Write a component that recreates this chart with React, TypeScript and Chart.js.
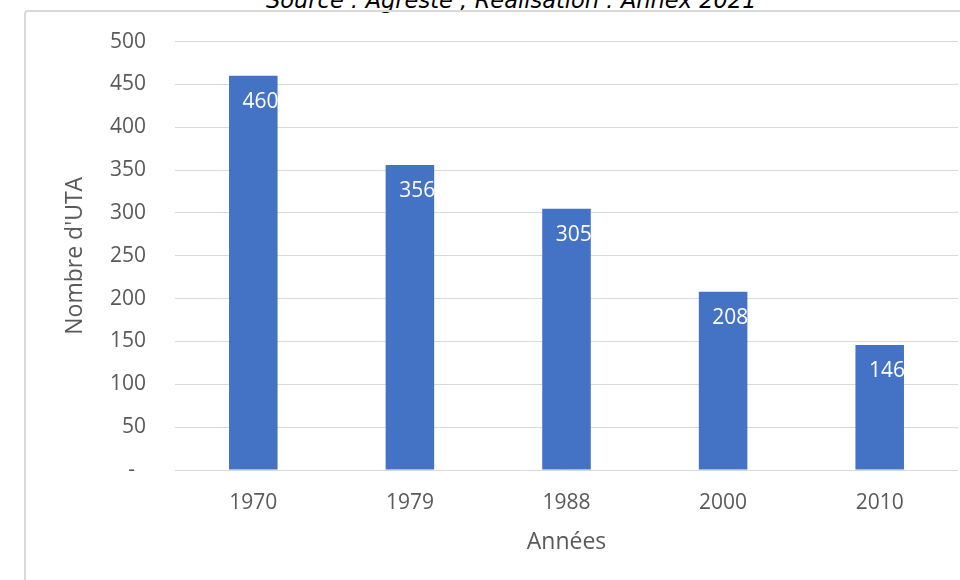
import React, { useEffect, useRef } from 'react';
import { Chart, registerables } from 'chart.js';
Chart.register(...registerables);

const categories = ['1970', '1979', '1988', '2000', '2010'];
const values = [460, 356, 305, 208, 146];
const yMin = 0;
const yMax = 500;
const yStep = 50;
const yTitle = "Nombre d'UTA";
const xTitle = 'Années';
const caption = 'Source : Agreste ; Réalisation : Annex 2021';

const FONT = "'Open Sans', 'Noto Sans', sans-serif";
const GREY = '#595959';

const labelPlugin = {
  id: 'barLabels',
  afterDatasetsDraw(chart: any) {
    const ctx = chart.ctx;
    const meta = chart.getDatasetMeta(0);
    ctx.save();
    ctx.fillStyle = '#ffffff';
    ctx.font = `21px ${FONT}`;
    ctx.textAlign = 'right';
    ctx.textBaseline = 'middle';
    meta.data.forEach((el: any, i: number) => {
      const props = el.getProps(['x', 'y', 'width'], true);
      ctx.fillText(String(values[i]), props.x + props.width / 2 + 1, props.y + 26);
    });
    ctx.restore();
  },
};

export default function App() {
  const ref = useRef<HTMLCanvasElement>(null);
  useEffect(() => {
    if (!ref.current) return;
    const chart = new Chart(ref.current, {
      type: 'bar',
      data: {
        labels: categories,
        datasets: [
          {
            data: values,
            backgroundColor: '#4472C4',
            categoryPercentage: 1,
            barPercentage: 0.31,
          },
        ],
      },
      options: {
        animation: false,
        responsive: false,
        layout: { padding: { left: 62, right: 2, top: 41, bottom: 0 } },
        plugins: { legend: { display: false }, tooltip: { enabled: false } },
        scales: {
          x: {
            grid: { display: false, drawTicks: false },
            border: { display: false },
            ticks: { color: GREY, font: { family: FONT, size: 21 }, padding: 20 },
            title: {
              display: true,
              text: xTitle,
              color: GREY,
              font: { family: FONT, size: 23 },
              padding: { top: 0, bottom: 24 },
            },
            afterFit: (s: any) => {
              s.height = 110;
            },
          },
          y: {
            min: yMin,
            max: yMax,
            grid: { color: '#d9d9d9', lineWidth: 1, drawTicks: false },
            border: { display: false },
            ticks: {
              stepSize: yStep,
              color: GREY,
              font: { family: FONT, size: 21 },
              padding: 29,
              callback: (v: any) => (Number(v) === 0 ? '-  ' : String(v)),
            },
            title: {
              display: true,
              text: yTitle,
              color: GREY,
              font: { family: FONT, size: 23 },
              padding: { top: 0, bottom: 0 },
            },
            afterFit: (s: any) => {
              s.width = 113;
            },
          },
        },
      },
      plugins: [labelPlugin],
    });
    return () => chart.destroy();
  }, []);

  return (
    <div
      style={{
        position: 'fixed',
        left: 0,
        top: 0,
        width: 960,
        height: 580,
        overflow: 'hidden',
        background: '#ffffff',
      }}
    >
      <div
        style={{
          position: 'absolute',
          left: 266,
          top: -11,
          fontFamily: "'DejaVu Sans', sans-serif",
          fontStyle: 'italic',
          fontSize: 22.5,
          lineHeight: '22px',
          whiteSpace: 'nowrap',
          color: '#000',
        }}
      >
        {caption}
      </div>
      <div
        style={{
          position: 'absolute',
          left: 24,
          top: 10,
          width: 1000,
          height: 1000,
          border: '2px solid #d9d9d9',
          borderRadius: 4,
          boxSizing: 'border-box',
        }}
      />
      <canvas
        ref={ref}
        width={960}
        height={580}
        style={{ position: 'absolute', left: 0, top: 0 }}
      />
    </div>
  );
}
